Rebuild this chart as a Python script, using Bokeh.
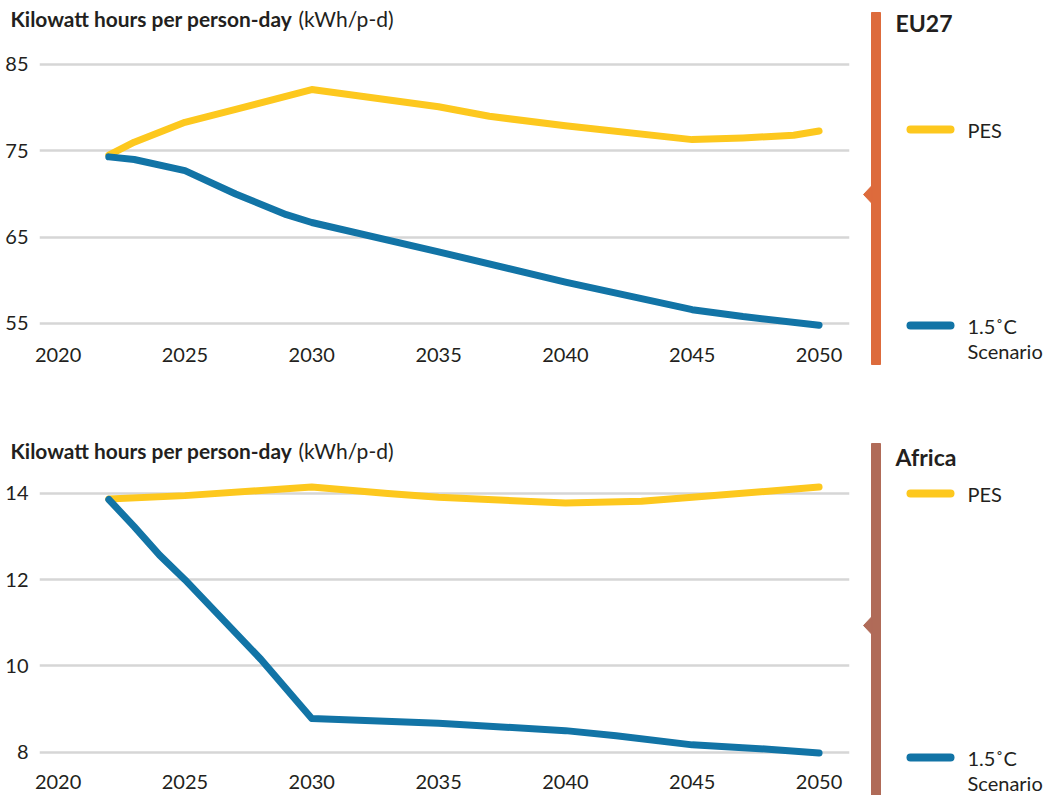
from bokeh.plotting import figure
from bokeh.layouts import column, row
from bokeh.models import Range1d, FixedTicker
from bokeh.core.properties import value
from bokeh.embed import file_html
from bokeh.resources import INLINE

# ---------------- data ----------------
eu_pes_years = [2022, 2023, 2025, 2027, 2030, 2035, 2037, 2040, 2045, 2047, 2049, 2050]
eu_pes_vals = [74.5, 76.0, 78.3, 79.8, 82.1, 80.1, 79.0, 77.9, 76.3, 76.5, 76.8, 77.3]
eu_15_years = [2022, 2023, 2025, 2027, 2029, 2030, 2035, 2040, 2045, 2047, 2050]
eu_15_vals = [74.3, 74.0, 72.7, 70.0, 67.6, 66.7, 63.3, 59.8, 56.6, 55.8, 54.8]

af_pes_years = [2022, 2025, 2030, 2033, 2035, 2040, 2043, 2045, 2050]
af_pes_vals = [13.87, 13.95, 14.15, 14.0, 13.91, 13.78, 13.82, 13.91, 14.15]
af_15_years = [2022, 2023, 2024, 2025, 2028, 2030, 2035, 2040, 2042, 2045, 2048, 2050]
af_15_vals = [13.86, 13.23, 12.57, 12.0, 10.15, 8.78, 8.67, 8.50, 8.38, 8.17, 8.07, 7.98]

x_ticks = [2020, 2025, 2030, 2035, 2040, 2045, 2050]
eu_ticks = [55, 65, 75, 85]
af_ticks = [8, 10, 12, 14]

series_names = ["PES", "1.5˚C", "Scenario"]
title_parts = ["Kilowatt hours per person-day", "(kWh/p-d)"]

# ---------------- style ----------------
YELLOW = "#FDC81E"
BLUE = "#1274A6"
GRID = "#D6D6D6"
TXT = "#231F20"
FONT = "Lato"
EU_COL = "#DD6B3C"
AF_COL = "#B06B58"
CW = 862   # chart column width
SW = 184   # side column width
X0, X1 = 2019.267, 2051.2


def blank(w, h):
    f = figure(width=w, height=h, x_range=Range1d(0, w), y_range=Range1d(h, 0),
               output_backend="svg", toolbar_location=None, min_border=0,
               x_axis_location=None, y_axis_location=None)
    f.frame_align = False
    f.outline_line_color = None
    f.grid.visible = False
    f.background_fill_color = "white"
    f.border_fill_color = "white"
    return f


def make_title(h, ty):
    t = blank(CW, h)
    t.text(x=[10], y=[ty], text=[title_parts[0]], text_font=value(FONT),
           text_font_style="bold", text_font_size="20.9px", text_color=TXT,
           text_baseline="middle")
    t.text(x=[298], y=[ty], text=[title_parts[1]], text_font=value(FONT),
           text_font_size="21px", text_color=TXT, text_baseline="middle")
    return t


def make_chart(h, y0, y1, ticks, pes_x, pes_y, s_x, s_y, mb_bottom):
    p = figure(width=CW, height=h, x_range=Range1d(X0, X1),
               y_range=Range1d(y0, y1), output_backend="svg",
               toolbar_location=None, min_border_left=39, min_border_right=13,
               min_border_top=0, min_border_bottom=mb_bottom)
    p.frame_align = False
    p.outline_line_color = None
    p.background_fill_color = "white"
    p.border_fill_color = "white"
    p.xgrid.visible = False
    p.ygrid.ticker = FixedTicker(ticks=ticks)
    p.ygrid.grid_line_color = GRID
    p.ygrid.grid_line_width = 2.5
    for ax, tk, so in ((p.xaxis, x_ticks, 7), (p.yaxis, ticks, 11)):
        ax.ticker = FixedTicker(ticks=tk)
        ax.axis_line_color = None
        ax.major_tick_line_color = None
        ax.minor_tick_line_color = None
        ax.major_tick_out = 0
        ax.major_tick_in = 0
        ax.major_label_text_font = FONT
        ax.major_label_text_font_size = "20px"
        ax.major_label_text_color = TXT
        ax.major_label_standoff = so
    p.line(pes_x, pes_y, line_color=YELLOW, line_width=7, line_join="round", line_cap="round")
    p.line(s_x, s_y, line_color=BLUE, line_width=7, line_join="round", line_cap="round")
    return p


def make_side(h, col, region, br_top, br_bottom, notch, pes_y, s_y, name_y):
    s = blank(SW, h)
    s.quad(left=9, right=18, top=br_top, bottom=br_bottom, color=col)
    s.patch([9.5, 1, 9.5], [notch - 9, notch, notch + 9], color=col)
    s.text(x=[33], y=[name_y], text=[region], text_font=value(FONT),
           text_font_style="bold", text_font_size="23px", text_color=TXT,
           text_baseline="middle")
    s.line([48, 88], [pes_y, pes_y], line_color=YELLOW, line_width=8, line_cap="round")
    s.line([48, 88], [s_y, s_y], line_color=BLUE, line_width=8, line_cap="round")
    s.text(x=[105, 105, 105], y=[pes_y, s_y, s_y + 25], text=series_names,
           text_font=value(FONT), text_font_size="20px", text_color=TXT,
           text_baseline="middle")
    return s


# top panel: rows 0..400
t1 = make_title(36, 18)
p1 = make_chart(364, 53.03, 88.243, eu_ticks, eu_pes_years, eu_pes_vals,
                eu_15_years, eu_15_vals, 60)
s1 = make_side(400, EU_COL, "EU27", 12, 364, 194, 129, 325, 22)

# bottom panel: rows 400..795
t2 = make_title(68, 50)
p2 = make_chart(327, 7.645, 14.579, af_ticks, af_pes_years, af_pes_vals,
                af_15_years, af_15_vals, 28)
s2 = make_side(395, AF_COL, "Africa", 43, 395, 225, 93, 357, 56)

layout = column(row(column(t1, p1), s1), row(column(t2, p2), s2))
open("out.html", "w").write(file_html(layout, INLINE))
